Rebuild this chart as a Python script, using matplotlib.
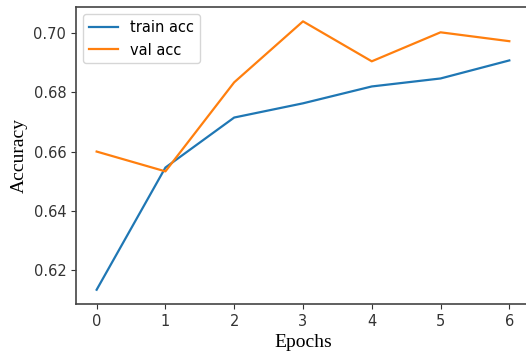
import matplotlib.pyplot as plt

# Valores
epochs = [0, 1, 2, 3, 4, 5, 6]
train_acc = [0.6133, 0.6546, 0.6715, 0.6763, 0.6820, 0.6847, 0.6908]
val_acc = [0.6600, 0.6533, 0.6834, 0.7040, 0.6905, 0.7003, 0.6973]

fig = plt.figure(figsize=(5.26, 3.58), dpi=100)
# el borde derecho del eje queda fuera de la imagen, como en la referencia
ax = fig.add_axes([0.1445, 0.151, 0.863, 0.829])

ax.plot(epochs, train_acc, color='#1f77b4', linewidth=1.6, label='train acc')
ax.plot(epochs, val_acc, color='#ff7f0e', linewidth=1.6, label='val acc')

ax.set_ylim(0.6085, 0.7088)
ax.set_xlim(-0.3, 6.3)
ax.set_yticks([0.62, 0.64, 0.66, 0.68, 0.70])
ax.tick_params(labelsize=10.5, colors='#333333')

for s in ax.spines.values():
    s.set_color('#444444')
    s.set_linewidth(1.2)

ax.set_xlabel('Epochs', family='Liberation Serif', fontsize=14)
ax.set_ylabel('Accuracy', family='Liberation Serif', fontsize=14)
ax.legend(loc='upper left', fontsize=10.5)

fig.savefig('out.png', dpi=100)
